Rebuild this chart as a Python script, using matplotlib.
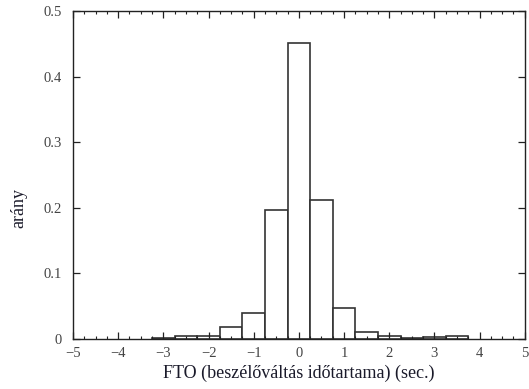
import matplotlib
matplotlib.use("Agg")
import matplotlib.pyplot as plt
from matplotlib.ticker import MultipleLocator, FuncFormatter

# histogram bins (centre of each 0.5 s bin) and proportions
bin_centers = [-3.0, -2.5, -2.0, -1.5, -1.0, -0.5, 0.0, 0.5, 1.0, 1.5, 2.0, 2.5, 3.0, 3.5]
proportions = [0.001, 0.004, 0.005, 0.019, 0.039, 0.196, 0.452, 0.212, 0.047, 0.011, 0.005, 0.002, 0.003, 0.004]
bin_width = 0.5

plt.rcParams['font.family'] = ['Liberation Serif', 'DejaVu Serif']

fig = plt.figure(figsize=(5.29, 3.89), dpi=100)
ax = fig.add_axes([0.138, 0.1285, 0.854, 0.843])

ax.bar(bin_centers, proportions, width=bin_width, color='white',
       edgecolor='#333333', linewidth=1.2, align='center')

ax.set_xlim(-5, 5)
ax.set_ylim(0, 0.5)
ax.xaxis.set_major_locator(MultipleLocator(1))
ax.xaxis.set_minor_locator(MultipleLocator(0.25))
ax.yaxis.set_major_locator(MultipleLocator(0.1))
ax.yaxis.set_major_formatter(FuncFormatter(lambda v, p: '%g' % round(v, 2)))

ax.tick_params(which='both', direction='in', top=True, right=True,
               colors='#222222', labelcolor='#444444', labelsize=10.5)
ax.tick_params(which='major', length=5, width=0.9)
ax.tick_params(which='minor', length=2.5, width=0.8)
ax.tick_params(axis='y', pad=8)
ax.tick_params(axis='x', pad=6)

for s in ax.spines.values():
    s.set_linewidth(1.0)
    s.set_color('#222222')

ax.set_xlabel('FTO (beszélőváltás időtartama) (sec.)', fontsize=13,
              color='#1a1a2a', labelpad=3)
ax.set_ylabel('arány', fontsize=13, color='#1a1a2a')
ax.yaxis.set_label_coords(-0.1, 0.40)

fig.savefig('out.png', dpi=100)
